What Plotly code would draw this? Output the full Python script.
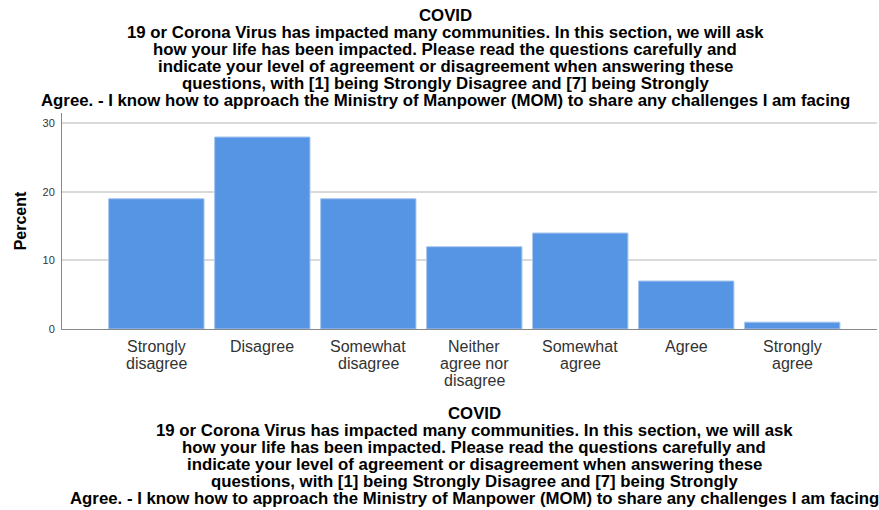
import plotly.graph_objects as go

# data
categories = ['Strongly disagree', 'Disagree', 'Somewhat disagree',
              'Neither agree nor disagree', 'Somewhat agree', 'Agree',
              'Strongly agree']
category_lines = [['Strongly', 'disagree'], ['Disagree'], ['Somewhat', 'disagree'],
                  ['Neither', 'agree nor', 'disagree'], ['Somewhat', 'agree'],
                  ['Agree'], ['Strongly', 'agree']]
percent = [19, 28, 19, 12, 14, 7, 1]
y_ticks = [0, 10, 20, 30]
title_lines = [
    'COVID',
    '19 or Corona Virus has impacted many communities. In this section, we will ask',
    'how your life has been impacted. Please read the questions carefully and',
    'indicate your level of agreement or disagreement when answering these',
    'questions, with [1] being Strongly Disagree and [7] being Strongly',
    'Agree. - I know how to approach the Ministry of Manpower (MOM) to share any challenges I am facing',
]

W, H = 879, 510
L, R, T, B = 62, 877, 113, 329
font = 'Liberation Sans, Arial, sans-serif'


def px(x):
    return (x - L) / (R - L)


def py(y):
    return (B - y) / (B - T)


fig = go.Figure(go.Bar(
    x=categories, y=percent,
    marker=dict(color='#5694e4', line=dict(color='#a9c8f0', width=1)),
))

annotations = []
for i, line in enumerate(title_lines):
    # top title
    annotations.append(dict(text='<b>' + line + '</b>', x=px(445), y=py(15 + i * 17),
                            xref='paper', yref='paper', showarrow=False,
                            xanchor='center', yanchor='middle',
                            font=dict(family=font, size=16.8, color='#000')))
    # bottom (axis) title
    annotations.append(dict(text='<b>' + line + '</b>', x=px(474), y=py(413 + i * 17),
                            xref='paper', yref='paper', showarrow=False,
                            xanchor='center', yanchor='middle',
                            font=dict(family=font, size=16.8, color='#000')))

# category labels, one line each for the tighter SPSS spacing
for cat, lines in zip(categories, category_lines):
    for j, line in enumerate(lines):
        annotations.append(dict(text=line, x=cat, y=py(346 + j * 17),
                                xref='x', yref='paper', showarrow=False,
                                xanchor='center', yanchor='middle',
                                font=dict(family=font, size=16, color='#333')))

fig.update_layout(
    width=W, height=H,
    margin=dict(l=L, r=W - R, t=T, b=H - B, pad=0),
    plot_bgcolor='white', paper_bgcolor='white',
    showlegend=False,
    bargap=0.1,
    annotations=annotations,
    font=dict(family=font),
)
fig.update_xaxes(
    range=[-0.89, 6.8], showgrid=False, zeroline=False,
    showline=True, linecolor='#888', linewidth=1,
    ticks='', showticklabels=False,
)
fig.update_yaxes(
    range=[0, 31.5], tickvals=y_ticks, showgrid=True, gridcolor='#d9d9d9',
    gridwidth=1.5, zeroline=False, showline=True, linecolor='#888',
    linewidth=1, ticks='outside', ticklen=4, tickcolor='rgba(0,0,0,0)',
    tickfont=dict(size=11, color='#333'),
    title=dict(text='<b>Percent</b>', font=dict(size=16, color='#000'), standoff=11),
)

fig.write_html('out.html', config={'displayModeBar': False},
               post_script="document.body.style.margin='0';")
